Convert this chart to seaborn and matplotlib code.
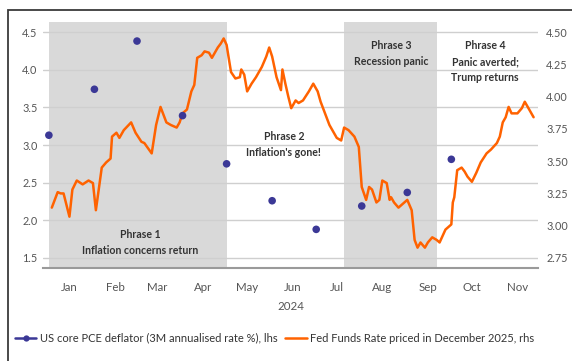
import matplotlib
matplotlib.use("Agg")
import matplotlib.pyplot as plt
import matplotlib.dates as mdates
from matplotlib.lines import Line2D
from matplotlib.patches import Rectangle
from matplotlib.ticker import FormatStrFormatter
import pandas as pd
import seaborn as sns

# US core PCE deflator, 3M annualised rate (%), left axis
pce_dates = ["2024-01-01", "2024-02-01", "2024-03-01", "2024-04-01", "2024-05-01",
             "2024-06-01", "2024-07-01", "2024-08-01", "2024-09-01", "2024-10-01"]
pce_values = [3.13, 3.74, 4.38, 3.39, 2.75, 2.26, 1.88, 2.19, 2.37, 2.81]

# Fed Funds rate priced for December 2025 (%), right axis
fed_dates = [
    "2024-01-03", "2024-01-07", "2024-01-09", "2024-01-11", "2024-01-15", "2024-01-17",
    "2024-01-20", "2024-01-24", "2024-01-28", "2024-01-31", "2024-02-02", "2024-02-06",
    "2024-02-09", "2024-02-12", "2024-02-13", "2024-02-16", "2024-02-18", "2024-02-21",
    "2024-02-26", "2024-02-29", "2024-03-04", "2024-03-06", "2024-03-11", "2024-03-14",
    "2024-03-17", "2024-03-21", "2024-03-24", "2024-03-28", "2024-03-30", "2024-04-01",
    "2024-04-04", "2024-04-07", "2024-04-09", "2024-04-11", "2024-04-14", "2024-04-16",
    "2024-04-19", "2024-04-21", "2024-04-25", "2024-04-27", "2024-04-29", "2024-05-01",
    "2024-05-04", "2024-05-07", "2024-05-10", "2024-05-11", "2024-05-13", "2024-05-15",
    "2024-05-18", "2024-05-21", "2024-05-25", "2024-05-28", "2024-05-30", "2024-06-01",
    "2024-06-04", "2024-06-07", "2024-06-08", "2024-06-10", "2024-06-12", "2024-06-14",
    "2024-06-17", "2024-06-19", "2024-06-22", "2024-06-26", "2024-06-29", "2024-07-02",
    "2024-07-04", "2024-07-06", "2024-07-10", "2024-07-15", "2024-07-18", "2024-07-20",
    "2024-07-23", "2024-07-27", "2024-07-30", "2024-08-01", "2024-08-04", "2024-08-06",
    "2024-08-08", "2024-08-11", "2024-08-13", "2024-08-15", "2024-08-18", "2024-08-20",
    "2024-08-21", "2024-08-23", "2024-08-26", "2024-08-30", "2024-09-01", "2024-09-04",
    "2024-09-06", "2024-09-08", "2024-09-10", "2024-09-13", "2024-09-15", "2024-09-18",
    "2024-09-21", "2024-09-23", "2024-09-27", "2024-10-01", "2024-10-02", "2024-10-03",
    "2024-10-05", "2024-10-08", "2024-10-10", "2024-10-12", "2024-10-15", "2024-10-18",
    "2024-10-21", "2024-10-25", "2024-10-28", "2024-11-01", "2024-11-03", "2024-11-05",
    "2024-11-07", "2024-11-09", "2024-11-11", "2024-11-15", "2024-11-18", "2024-11-20",
    "2024-11-23", "2024-11-26",
]
fed_values = [
    3.14, 3.26, 3.25, 3.25, 3.07, 3.28,
    3.35, 3.32, 3.35, 3.33, 3.12, 3.45,
    3.49, 3.52, 3.69, 3.72, 3.68, 3.74,
    3.80, 3.72, 3.65, 3.64, 3.56, 3.78,
    3.92, 3.80, 3.78, 3.76, 3.80, 3.87,
    3.90, 4.04, 4.09, 4.30, 4.32, 4.35,
    4.34, 4.30, 4.38, 4.41, 4.45, 4.40,
    4.19, 4.14, 4.15, 4.21, 4.17, 4.04,
    4.10, 4.15, 4.23, 4.31, 4.38, 4.31,
    4.15, 4.05, 4.21, 4.10, 4.00, 3.91,
    3.97, 3.95, 3.97, 4.04, 4.10, 4.04,
    3.96, 3.90, 3.78, 3.68, 3.66, 3.76,
    3.74, 3.69, 3.61, 3.30, 3.20, 3.30,
    3.28, 3.18, 3.20, 3.35, 3.33, 3.20,
    3.22, 3.18, 3.14, 3.18, 3.20, 3.12,
    2.89, 2.83, 2.87, 2.83, 2.87, 2.91,
    2.89, 2.87, 2.97, 3.01, 3.18, 3.22,
    3.43, 3.45, 3.42, 3.38, 3.34, 3.41,
    3.49, 3.56, 3.59, 3.64, 3.69, 3.80,
    3.84, 3.92, 3.87, 3.87, 3.91, 3.96,
    3.90, 3.84,
]

# Shaded phases
phase_starts = ["2024-01-01", "2024-07-20"]
phase_ends = ["2024-05-01", "2024-09-21"]

# Phase annotations
phase_labels = ["Phrase 1\nInflation concerns return",
                "Phrase 2\nInflation's gone!",
                "Phrase 3\nRecession panic",
                "Phrase 4\nPanic averted;\nTrump returns"]
phase_label_dates = ["2024-03-03", "2024-06-09", "2024-08-21", "2024-10-24"]
phase_label_levels = [1.71, 3.01, 4.22, 4.11]

month_labels = ["Jan", "Feb", "Mar", "Apr", "May", "Jun", "Jul", "Aug", "Sep", "Oct", "Nov"]
left_ticks = [1.5, 2.0, 2.5, 3.0, 3.5, 4.0, 4.5]
right_ticks = [2.75, 3.00, 3.25, 3.50, 3.75, 4.00, 4.25, 4.50]

pce_label = "US core PCE deflator (3M annualised rate %), lhs"
fed_label = "Fed Funds Rate priced in December 2025, rhs"

ORANGE = "#ff6200"
INDIGO = "#3b3896"
SHADE = "#d9d9d9"
TEXT = "#333333"
TICK = "#555555"

pce_df = pd.DataFrame({"date": pd.to_datetime(pce_dates), "pce": pce_values})
fed_df = pd.DataFrame({"date": pd.to_datetime(fed_dates), "rate": fed_values})

sns.set_theme(style="white")
plt.rcParams["font.family"] = ["Lato", "DejaVu Sans"]

W, H = 572, 361
fig = plt.figure(figsize=(W / 100, H / 100), dpi=100)
ax = fig.add_axes([43 / W, 1 - 268 / H, (538 - 43) / W, (268 - 22) / H])
ax2 = ax.twinx()

# Background phases and grid on the left axis
for s, e in zip(phase_starts, phase_ends):
    ax.axvspan(pd.Timestamp(s), pd.Timestamp(e), color=SHADE, lw=0, zorder=0)
ax.set_axisbelow(True)
ax.yaxis.grid(True, color="#cfcfcf", lw=1.0)
ax.xaxis.grid(False)

# Fed funds pricing on the right axis
sns.lineplot(data=fed_df, x="date", y="rate", ax=ax2, color=ORANGE, lw=1.8, zorder=2)

# PCE dots drawn in left-axis data coordinates, above the line
sns.scatterplot(data=pce_df, x="date", y="pce", ax=ax2, transform=ax.transData,
                color=INDIGO, s=30, edgecolor="none", zorder=3)

for txt, d, lvl in zip(phase_labels, phase_label_dates, phase_label_levels):
    ax.text(pd.Timestamp(d), lvl, txt, ha="center", va="center", multialignment="center",
            fontsize=7.6, fontweight="bold", color=TEXT, linespacing=1.55, zorder=4)

# Ticks: month names mid-month, small marks at month boundaries
month_mid = pd.date_range("2024-01-01", periods=len(month_labels), freq="MS") + pd.Timedelta(days=14)
ax.set_xticks(month_mid)
ax.set_xticklabels(month_labels)
ax.xaxis.set_minor_locator(mdates.MonthLocator())
ax.set_yticks(left_ticks)
ax2.set_yticks(right_ticks)
ax.yaxis.set_major_formatter(FormatStrFormatter("%.1f"))
ax2.yaxis.set_major_formatter(FormatStrFormatter("%.2f"))

# Axes limits
ax.set_xlim(pd.Timestamp("2023-12-28"), pd.Timestamp("2024-11-29"))
ax.set_ylim(1.367, 4.633)
ax2.set_ylim(2.6725, 4.5775)

ax.tick_params(axis="x", which="major", length=0, pad=10, labelsize=8.3, labelcolor=TICK)
ax.tick_params(axis="x", which="minor", length=3, width=1, color="#aaaaaa", direction="inout")
ax.tick_params(axis="y", length=0, pad=4, labelsize=7.8, labelcolor=TICK)
ax2.tick_params(axis="y", length=0, pad=6, labelsize=7.8, labelcolor=TICK)

ax.set_xlabel("2024", fontsize=8.3, color=TICK, labelpad=6)
ax.set_ylabel("")
ax2.set_ylabel("")
ax2.set_xlabel("")

for sp in ["top", "left", "right"]:
    ax.spines[sp].set_visible(False)
for sp in ax2.spines.values():
    sp.set_visible(False)
ax.spines["bottom"].set_color("#9a9a9a")
ax.spines["bottom"].set_linewidth(1.5)

# Legend below the plot
handles = [
    Line2D([], [], color=INDIGO, lw=1.8, marker="o", markersize=4.5, markeredgewidth=0),
    Line2D([], [], color=ORANGE, lw=1.8),
]
if ax2.get_legend() is not None:
    ax2.get_legend().remove()
fig.legend(handles, [pce_label, fed_label], loc="center left",
           bbox_to_anchor=(15 / W, 1 - 338 / H), ncol=2, frameon=False,
           fontsize=8, labelcolor=TEXT, handlelength=1.9, handletextpad=0.35,
           columnspacing=0.7, borderaxespad=0, borderpad=0)

# Outer frame
fig.patches.append(Rectangle((8 / W, -0.2), 1.2, 1.2 - 10 / H,
                             transform=fig.transFigure, fill=False,
                             edgecolor="#3a3a3a", lw=1.3, clip_on=False))

fig.savefig("out.png", dpi=100)
